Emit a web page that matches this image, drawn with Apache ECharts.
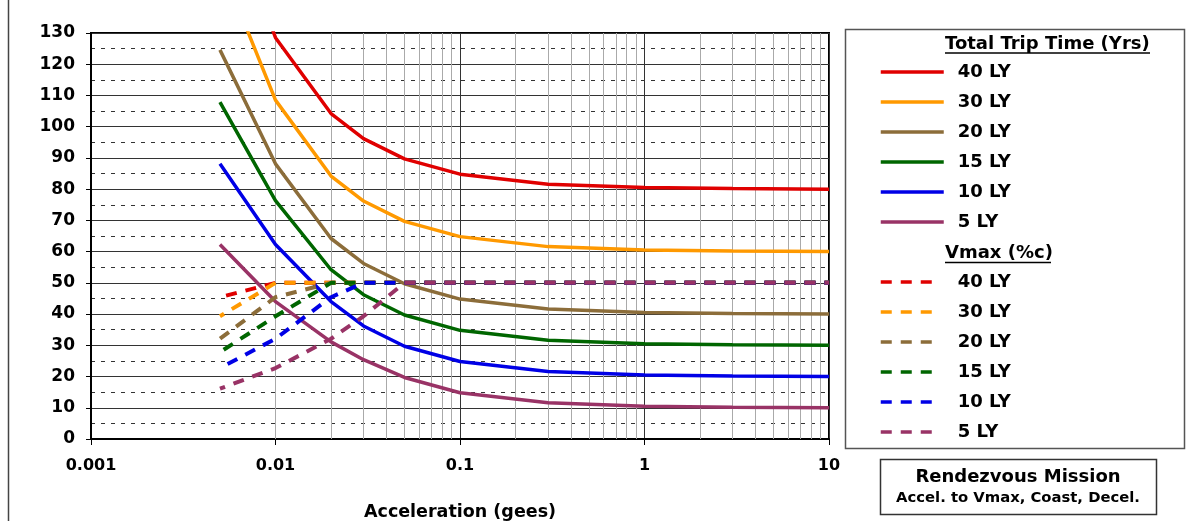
<!DOCTYPE html>
<html>
<head>
<meta charset="utf-8">
<title>Rendezvous Mission</title>
<script src="https://cdn.jsdelivr.net/npm/echarts@6/dist/echarts.min.js"></script>
<style>
  html, body { margin: 0; padding: 0; background: #fff; }
  #chart { width: 1193px; height: 521px; }
</style>
</head>
<body>
<div id="chart"></div>
<script>
// acceleration (gees)
const accel = [0.005, 0.01, 0.02, 0.03, 0.05, 0.1, 0.3, 1, 3, 10]

const distances = ['40 LY', '30 LY', '20 LY', '15 LY', '10 LY', '5 LY']
const colors = ['#e00000', '#ff9900', '#8c6d3a', '#006600', '#0000e6', '#993366']

// total trip time (years)
const time40 = [176.2, 128.5, 104.2, 96.2, 89.7, 84.8, 81.6, 80.5, 80.2, 80.0]
const time30 = [152.6, 108.5, 84.2, 76.2, 69.7, 64.8, 61.6, 60.5, 60.2, 60.0]
const time20 = [124.6, 88.1, 64.2, 56.2, 49.7, 44.8, 41.6, 40.5, 40.2, 40.0]
const time15 = [107.9, 76.3, 54.2, 46.2, 39.7, 34.8, 31.6, 30.5, 30.2, 30.0]
const time10 = [88.1, 62.3, 44.0, 36.2, 29.7, 24.8, 21.6, 20.5, 20.2, 20.0]
const time5 = [62.3, 44.0, 31.1, 25.4, 19.7, 14.8, 11.6, 10.5, 10.2, 10.0]

// max velocity (% of c)
const vmax40 = [45.4, 50, 50, 50, 50, 50, 50, 50, 50, 50]
const vmax30 = [39.3, 50, 50, 50, 50, 50, 50, 50, 50, 50]
const vmax20 = [32.1, 45.4, 50, 50, 50, 50, 50, 50, 50, 50]
const vmax15 = [27.8, 39.3, 50, 50, 50, 50, 50, 50, 50, 50]
const vmax10 = [22.7, 32.1, 45.4, 50, 50, 50, 50, 50, 50, 50]
const vmax5 = [16.1, 22.7, 32.1, 39.3, 50, 50, 50, 50, 50, 50]

const xTickLabels = ['0.001', '0.01', '0.1', '1', '10']

const timeData = [time40, time30, time20, time15, time10, time5]
const vmaxData = [vmax40, vmax30, vmax20, vmax15, vmax10, vmax5]

// 2..9 inside each decade, for the light vertical grid
const minorX = []
for (let d = -3; d < 1; d++) {
  for (let m = 2; m <= 9; m++) {
    minorX.push(+(m * Math.pow(10, d)).toPrecision(3))
  }
}

const font = 'DejaVu Sans'
const dash = [11, 9]
const dashPeriod = dash[0] + dash[1]

function makeSeries(prefix, list, dashed) {
  return list.map((values, k) => ({
    name: prefix + distances[k],
    type: 'line',
    data: accel.map((a, i) => [a, values[i]]),
    symbol: 'none',
    showSymbol: false,
    clip: true,
    z: 2,
    itemStyle: { color: colors[k] },
    lineStyle: {
      color: colors[k],
      width: dashed ? 4 : 3.5,
      type: dashed ? dash : 'solid'
    }
  }))
}

const series = makeSeries('Trip ', timeData, false).concat(makeSeries('Vmax ', vmaxData, true))

// light vertical grid lines on the log axis
series[0].markLine = {
  silent: true,
  z: 1,
  symbol: ['none', 'none'],
  label: { show: false },
  animation: false,
  lineStyle: { color: '#aaa', width: 1, type: 'solid' },
  data: minorX.map(v => ({ xAxis: v }))
}

function legendText(pad) {
  return {
    fontFamily: font,
    fontWeight: 'bold',
    fontSize: 18,
    color: '#000',
    rich: {
      t: { fontFamily: font, fontWeight: 'bold', fontSize: 18, color: '#000', padding: [0, 0, 0, pad] }
    }
  }
}

const chart = echarts.init(document.getElementById('chart'))

chart.setOption({
  animation: false,
  backgroundColor: '#fff',
  grid: {
    left: 91, top: 33, width: 738, height: 406,
    containLabel: false,
    outerBoundsMode: 'none',
    show: true, borderColor: '#000', borderWidth: 2
  },
  xAxis: {
    type: 'log',
    logBase: 10,
    min: 0.001,
    max: 10,
    name: 'Acceleration (gees)',
    nameLocation: 'middle',
    nameGap: 64,
    nameTextStyle: { fontFamily: font, fontWeight: 'bold', fontSize: 17.5, color: '#000' },
    axisLine: { lineStyle: { color: '#000', width: 2 } },
    axisTick: { show: true, length: 6, lineStyle: { color: '#000', width: 1 } },
    axisLabel: {
      margin: 19,
      fontFamily: font, fontWeight: 'bold', fontSize: 16, color: '#000',
      formatter: v => xTickLabels[Math.round(Math.log10(v)) + 3] || ''
    },
    splitLine: { show: true, lineStyle: { color: '#333', width: 1 } },
    minorTick: { show: false },
    minorSplitLine: { show: false }
  },
  yAxis: {
    type: 'value',
    min: 0,
    max: 130,
    interval: 10,
    axisLine: { show: true, lineStyle: { color: '#000', width: 2 } },
    axisTick: { show: true, length: 5, lineStyle: { color: '#000', width: 1 } },
    axisLabel: { margin: 16, fontFamily: font, fontWeight: 'bold', fontSize: 17, color: '#000' },
    splitLine: { show: true, lineStyle: { color: '#333', width: 1 } },
    minorTick: { show: false, splitNumber: 2 },
    minorSplitLine: { show: true, lineStyle: { color: '#333', width: 1, type: [4, 6] } }
  },
  legend: [
    {
      data: distances.map(d => 'Trip ' + d),
      orient: 'vertical',
      left: 879, top: 63, padding: 0,
      itemWidth: 63, itemHeight: 18, itemGap: 12,
      selectedMode: false,
      itemStyle: { opacity: 0 },
      lineStyle: { width: 3.5 },
      textStyle: legendText(9),
      formatter: name => '{t|' + name.replace('Trip ', '') + '}'
    },
    {
      data: distances.map(d => 'Vmax ' + d),
      orient: 'vertical',
      left: 879, top: 273, padding: 0,
      itemWidth: 52, itemHeight: 18, itemGap: 12,
      selectedMode: false,
      itemStyle: { opacity: 0 },
      lineStyle: { width: 3.5, dashOffset: 0 },
      textStyle: legendText(20),
      formatter: name => '{t|' + name.replace('Vmax ', '') + '}'
    }
  ],
  graphic: [
    { type: 'line', shape: { x1: 8.5, y1: 0, x2: 8.5, y2: 521 }, style: { stroke: '#444', lineWidth: 1.5 } },
    { type: 'rect', shape: { x: 845.5, y: 29.5, width: 339, height: 419 }, style: { fill: null, stroke: '#555', lineWidth: 1.5 } },
    {
      type: 'text', x: 945, y: 44,
      style: { text: 'Total Trip Time (Yrs)', fill: '#000', fontFamily: font, fontWeight: 'bold', fontSize: 18, align: 'left', verticalAlign: 'middle' }
    },
    { type: 'line', shape: { x1: 945, y1: 53, x2: 1150, y2: 53 }, style: { stroke: '#000', lineWidth: 1.5 } },
    {
      type: 'text', x: 945, y: 253.5,
      style: { text: 'Vmax (%c)', fill: '#000', fontFamily: font, fontWeight: 'bold', fontSize: 18, align: 'left', verticalAlign: 'middle' }
    },
    { type: 'line', shape: { x1: 945, y1: 262.5, x2: 1051, y2: 262.5 }, style: { stroke: '#000', lineWidth: 1.5 } },
    { type: 'rect', shape: { x: 880.5, y: 459.5, width: 276, height: 55 }, style: { fill: null, stroke: '#333', lineWidth: 1.5 } },
    {
      type: 'text', x: 1018, y: 477,
      style: { text: 'Rendezvous Mission', fill: '#000', fontFamily: font, fontWeight: 'bold', fontSize: 18, align: 'center', verticalAlign: 'middle' }
    },
    {
      type: 'text', x: 1018, y: 498.5,
      style: { text: 'Accel. to Vmax, Coast, Decel.', fill: '#000', fontFamily: font, fontWeight: 'bold', fontSize: 14.8, align: 'center', verticalAlign: 'middle' }
    }
  ],
  series: series
})

// line the dashes up where the Vmax curves merge at 50 %c (index of 0.05 g),
// so the shared segment shows one clean dash pattern
const mergeIndex = 4
const offsets = vmaxData.map(values => {
  let len = 0
  for (let i = 1; i <= mergeIndex; i++) {
    const p0 = chart.convertToPixel({ gridIndex: 0 }, [accel[i - 1], values[i - 1]])
    const p1 = chart.convertToPixel({ gridIndex: 0 }, [accel[i], values[i]])
    len += Math.hypot(p1[0] - p0[0], p1[1] - p0[1])
  }
  return -(len % dashPeriod)
})

chart.setOption({
  series: series.map((s, idx) => idx < 6 ? {} : { lineStyle: { dashOffset: offsets[idx - 6] } })
})
</script>
</body>
</html>
